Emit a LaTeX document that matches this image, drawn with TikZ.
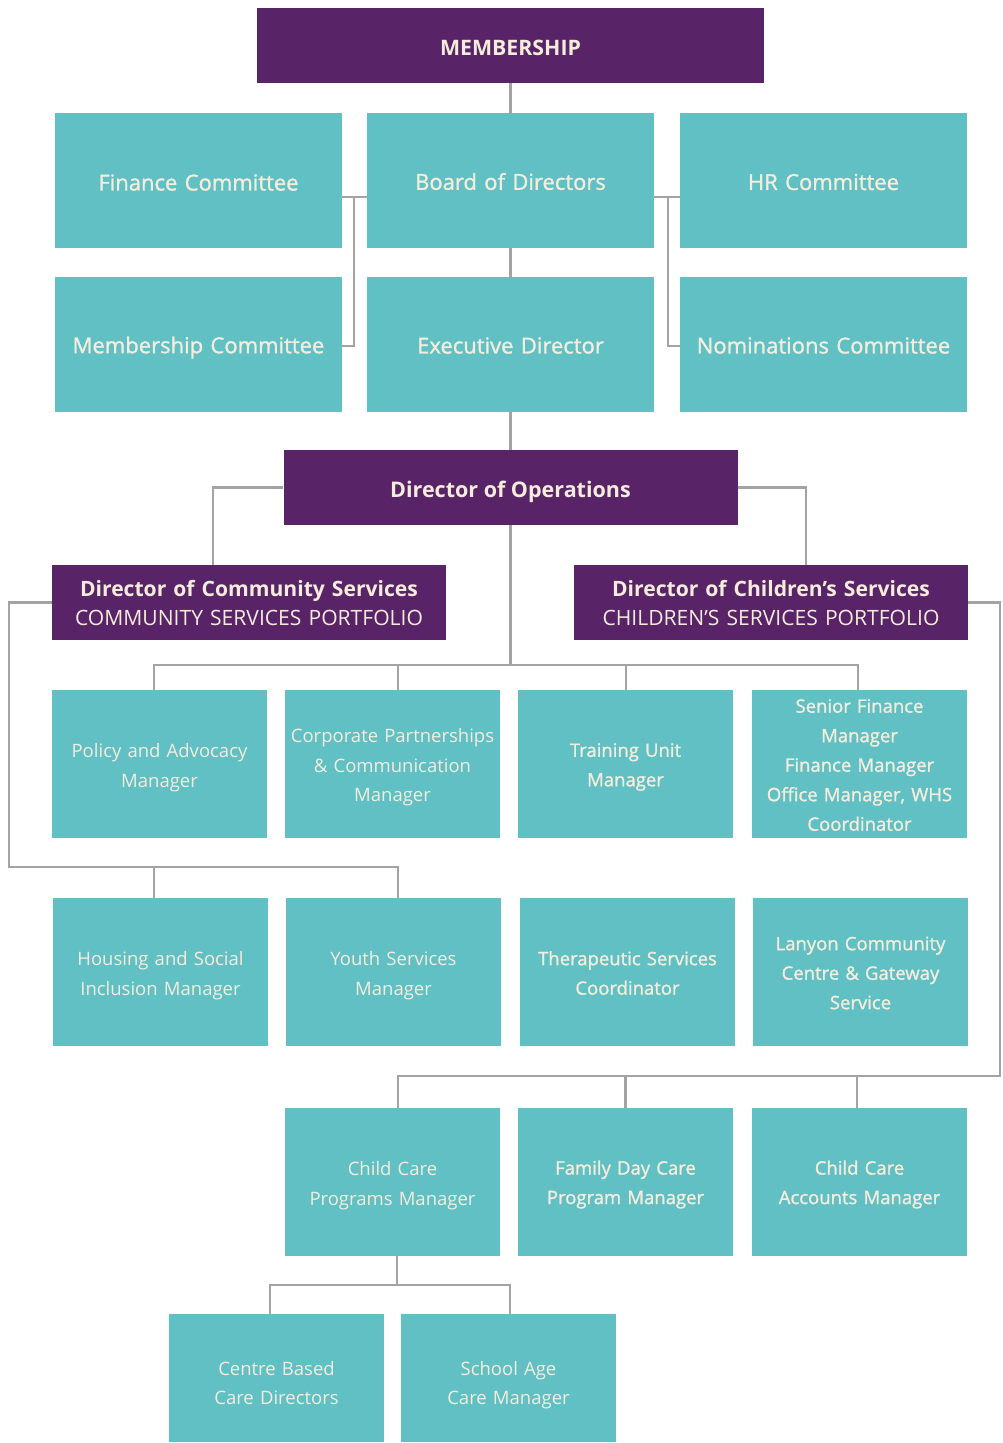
\documentclass[tikz,border=0pt]{standalone}
\usepackage{fontspec}
\setmainfont{Open Sans}
\newfontfamily\semib[FakeBold=1.3]{Open Sans}
\definecolor{purp}{HTML}{582467}
\definecolor{tealb}{HTML}{60C0C4}
\definecolor{cream}{HTML}{F5EDDC}
\definecolor{conn}{HTML}{A3A3A3}
\begin{document}
\begin{tikzpicture}[x=1pt,y=-1pt,
  box/.style={rectangle,fill=tealb,inner sep=0pt},
  pbox/.style={rectangle,fill=purp,text=cream,inner sep=0pt,align=center},
  big/.style={box,minimum width=287pt,minimum height=135pt},
  sm/.style={box,minimum width=215pt,minimum height=148pt},
  txt/.style={text=cream,inner sep=0pt,align=center,text width=212pt},
  tbig/.style={txt,text width=280pt,font=\semib\fontsize{22}{28}\selectfont},
  tl/.style={txt,font=\fontsize{18.5}{29.5}\selectfont},
  tb/.style={txt,font=\semib\fontsize{18.5}{29.5}\selectfont},
  ln/.style={draw=conn,line width=2.2pt}]
\useasboundingbox (0,0) rectangle (1003,1443);
% top
\node[pbox,minimum width=507pt,minimum height=75pt] (mem) at (510.5,45.5) {};
\node[text=cream,inner sep=0pt,font=\bfseries\fontsize{21.3}{24}\selectfont] (mem-t) at ([yshift=-2pt]mem.center) {MEMBERSHIP};
\node[big] (fin) at (198.5,180.5) {};
\node[big] (board) at (510.5,180.5) {};
\node[big] (hr) at (823.5,180.5) {};
\node[big] (memc) at (198.5,344.5) {};
\node[big] (exec) at (510.5,344.5) {};
\node[big] (nom) at (823.5,344.5) {};
\node[tbig] (fin-t) at ([yshift=-2pt]fin.center) {Finance Committee};
\node[tbig] (board-t) at ([yshift=-1pt]board.center) {Board of Directors};
\node[tbig] (hr-t) at ([yshift=-1.5pt]hr.center) {HR Committee};
\node[tbig] (memc-t) at ([yshift=-3pt]memc.center) {Membership Committee};
\node[tbig] (exec-t) at ([yshift=-1pt]exec.center) {Executive Director};
\node[tbig] (nom-t) at ([yshift=-1pt]nom.center) {Nominations Committee};
\node[pbox,minimum width=454pt,minimum height=75pt] (ops) at (510.5,487.5) {};
\node[text=cream,inner sep=0pt,font=\bfseries\fontsize{21.5}{24}\selectfont] (ops-t) at ([yshift=-4.5pt]ops.center) {Director of Operations};
\node[pbox,minimum width=394pt,minimum height=75pt] (dcs) at (249,602.5) {};
\node[pbox,minimum width=394pt,minimum height=75pt] (dchs) at (771,602.5) {};
\node[txt,text width=390pt,font=\fontsize{21.1}{29}\selectfont] (dcs-t) at ([yshift=-1pt]dcs.center) {{\bfseries Director of Community Services}\\COMMUNITY SERVICES PORTFOLIO};
\node[txt,text width=390pt,font=\fontsize{21.1}{29}\selectfont] (dchs-t) at ([yshift=-1pt]dchs.center) {{\bfseries Director of Children’s Services}\\CHILDREN’S SERVICES PORTFOLIO};
% row 3
\node[sm] (pa) at (159.5,764) {};
\node[sm] (cp) at (392.5,764) {};
\node[sm] (tu) at (625.5,764) {};
\node[sm] (sfm) at (859.5,764) {};
\node[tl] (pa-t) at ([yshift=-3.5pt]pa.center) {Policy and Advocacy\\Manager};
\node[tl] (cp-t) at ([yshift=-3.5pt]cp.center) {Corporate Partnerships\\\&~Communication\\Manager};
\node[tb] (tu-t) at ([yshift=-3pt]tu.center) {Training Unit\\Manager};
\node[tb] (sfm-t) at ([yshift=-1pt]sfm.center) {Senior Finance\\Manager\\Finance Manager\\Office Manager, WHS\\Coordinator};
% row 4
\node[sm] (hs) at (160.5,972) {};
\node[sm] (ys) at (393.5,972) {};
\node[sm] (ts) at (627.5,972) {};
\node[sm] (lc) at (860.5,972) {};
\node[tl] (hs-t) at ([yshift=-3.5pt]hs.center) {Housing and Social\\Inclusion Manager};
\node[tl] (ys-t) at ([yshift=-3.5pt]ys.center) {Youth Services\\Manager};
\node[tb] (ts-t) at ([yshift=-1pt]ts.center) {Therapeutic Services\\Coordinator};
\node[tb] (lc-t) at ([yshift=-1pt]lc.center) {Lanyon Community\\Centre \& Gateway\\Service};
% row 5
\node[sm] (ccp) at (392.5,1182) {};
\node[sm] (fdc) at (625.5,1182) {};
\node[sm] (cca) at (859.5,1182) {};
\node[tl] (ccp-t) at ([yshift=-3.5pt]ccp.center) {Child Care\\Programs Manager};
\node[tb] (fdc-t) at ([yshift=-2.5pt]fdc.center) {Family Day Care\\Program Manager};
\node[tb] (cca-t) at ([yshift=-2.5pt]cca.center) {Child Care\\Accounts Manager};
% row 6
\node[sm,minimum height=128pt] (cb) at (276.5,1378) {};
\node[sm,minimum height=128pt] (sa) at (508.5,1378) {};
\node[tl] (cb-t) at ([yshift=-5pt]cb.center) {Centre Based\\Care Directors};
\node[tl] (sa-t) at ([yshift=-7pt]sa.center) {School Age\\Care Manager};
% connectors
\draw[ln] (mem.south) -- (board.north);
\draw[ln] (board.south) -- (exec.north);
\draw[ln] (exec.south) -- (ops.north);
\draw[ln] ([yshift=-16.5pt]board.west) -- ([yshift=-16.5pt]fin.east);
\draw[ln] ([xshift=-13pt,yshift=-16.5pt]board.west) |- ([yshift=-1.5pt]memc.east);
\draw[ln] ([yshift=-16.5pt]board.east) -- ([yshift=-16.5pt]hr.west);
\draw[ln] ([xshift=14pt,yshift=-16.5pt]board.east) |- ([yshift=-1.5pt]nom.west);
\draw[ln] (ops.west) -| ([xshift=-36pt]dcs.north);
\draw[ln] (ops.east) -| ([xshift=35pt]dchs.north);
\draw[ln] (ops.south) -- ++(0,140);
\draw[ln] ([xshift=-5.5pt]pa.north) -- ++(0,-25) -| ([xshift=-1.5pt]sfm.north);
\draw[ln] ([xshift=5.5pt]cp.north) -- ++(0,-25);
\draw[ln] ([xshift=0.5pt]tu.north) -- ++(0,-25);
\draw[ln] (dcs.west) -- ++(-43,0) |- ([xshift=4.5pt,yshift=31pt]ys.north) -- ([xshift=4.5pt]ys.north);
\draw[ln] ([xshift=-6.5pt]hs.north) -- ++(0,-31);
\draw[ln] (dchs.east) -- ++(32,0) |- ([xshift=5.5pt,yshift=32pt]ccp.north) -- ([xshift=5.5pt]ccp.north);
\draw[ln] (fdc.north) -- ++(0,-32);
\draw[ln] ([xshift=-2.5pt]cca.north) -- ++(0,-32);
\draw[ln] ([xshift=4.5pt]ccp.south) -- ++(0,29);
\draw[ln] ([xshift=-6.5pt]cb.north) -- ++(0,-29) -| ([xshift=1.5pt]sa.north);
\end{tikzpicture}
\end{document}
